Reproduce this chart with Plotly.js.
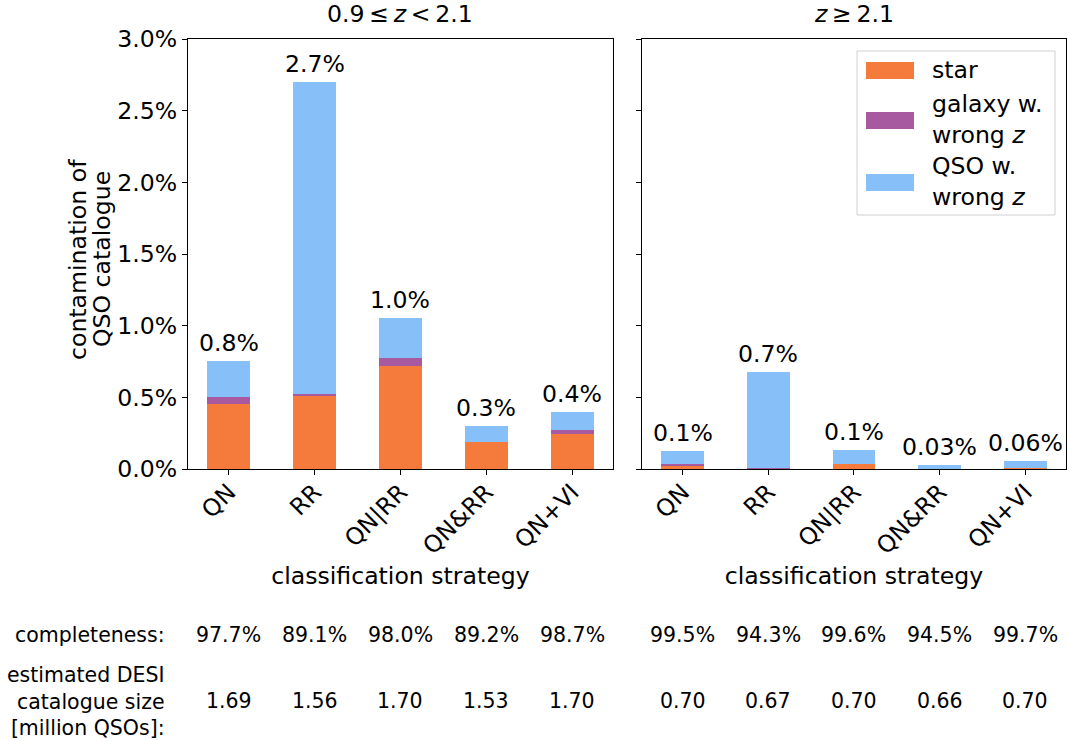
<!DOCTYPE html>
<html>
<head>
<meta charset="utf-8">
<script src="https://cdn.plot.ly/plotly-3.0.1.min.js"></script>
<style>html,body{margin:0;padding:0;background:#fff;}#chart{width:1067px;height:740px;}</style>
</head>
<body>
<div id="chart"></div>
<script>
// ---- data ----
const categories = ['QN', 'RR', 'QN|RR', 'QN&RR', 'QN+VI'];
// 0.9 <= z < 2.1 (percent)
const starLow   = [0.453, 0.507, 0.717, 0.191, 0.245];
const galaxyLow = [0.052, 0.014, 0.056, 0.000, 0.024];
const qsoLow    = [0.252, 2.177, 0.278, 0.110, 0.126];
const totalLabelsLow = ['0.8%', '2.7%', '1.0%', '0.3%', '0.4%'];
const completenessLow = ['97.7%', '89.1%', '98.0%', '89.2%', '98.7%'];
const sizeLow = ['1.69', '1.56', '1.70', '1.53', '1.70'];
// z >= 2.1 (percent)
const starHigh   = [0.021, 0.002, 0.035, 0.000, 0.009];
const galaxyHigh = [0.016, 0.007, 0.003, 0.000, 0.001];
const qsoHigh    = [0.091, 0.666, 0.097, 0.028, 0.048];
const totalLabelsHigh = ['0.1%', '0.7%', '0.1%', '0.03%', '0.06%'];
const completenessHigh = ['99.5%', '94.3%', '99.6%', '94.5%', '99.7%'];
const sizeHigh = ['0.70', '0.67', '0.70', '0.66', '0.70'];
const seriesNames = ['star', 'galaxy w. wrong z', 'QSO w. wrong z'];
const legendLabels = ['star', 'galaxy w.<br>wrong <i>z</i>', 'QSO w.<br>wrong <i>z</i>'];
const colors = ['#f57b3c', '#a85aa0', '#87c0f8'];

// ---- build ----
const FONT = 'DejaVu Sans, sans-serif';
const BIG = 23.6, SMALL = 20.5;
const tf = {family: FONT, size: BIG, color: '#000'};
const sf = {family: FONT, size: SMALL, color: '#000'};
const idx = categories.map((_, i) => i);
function bars(vals, name, color, xa, ya) {
  return {type: 'bar', x: idx, y: vals, name: name, width: 0.5,
    marker: {color: color, line: {width: 0}}, xaxis: xa, yaxis: ya,
    showlegend: false, hoverinfo: 'y'};
}
const traces = [
  bars(starLow, seriesNames[0], colors[0], 'x', 'y'),
  bars(galaxyLow, seriesNames[1], colors[1], 'x', 'y'),
  bars(qsoLow, seriesNames[2], colors[2], 'x', 'y'),
  bars(starHigh, seriesNames[0], colors[0], 'x2', 'y2'),
  bars(galaxyHigh, seriesNames[1], colors[1], 'x2', 'y2'),
  bars(qsoHigh, seriesNames[2], colors[2], 'x2', 'y2')
];

const sum = (a, b, c) => a.map((v, i) => v + b[i] + c[i]);
const totLow = sum(starLow, galaxyLow, qsoLow);
const totHigh = sum(starHigh, galaxyHigh, qsoHigh);

// pixel -> paper helpers (plot area: left 188, top 39, width 878, height 430)
const W = 878, H = 430, L = 188, T = 39;
const px = x => (x - L) / W, py = y => (T + H - y) / H;

const annotations = [];
idx.forEach(i => {
  annotations.push({xref: 'x', yref: 'y', x: i, y: totLow[i], text: totalLabelsLow[i],
    showarrow: false, yanchor: 'bottom', yshift: 2, font: tf});
  annotations.push({xref: 'x2', yref: 'y2', x: i, y: totHigh[i], text: totalLabelsHigh[i],
    showarrow: false, yanchor: 'bottom', yshift: 2, font: tf});
  annotations.push({xref: 'x', yref: 'paper', x: i, y: py(635), text: completenessLow[i],
    showarrow: false, yanchor: 'middle', font: sf});
  annotations.push({xref: 'x2', yref: 'paper', x: i, y: py(635), text: completenessHigh[i],
    showarrow: false, yanchor: 'middle', font: sf});
  annotations.push({xref: 'x', yref: 'paper', x: i, y: py(701), text: sizeLow[i],
    showarrow: false, yanchor: 'middle', font: sf});
  annotations.push({xref: 'x2', yref: 'paper', x: i, y: py(701), text: sizeHigh[i],
    showarrow: false, yanchor: 'middle', font: sf});
});
annotations.push({xref: 'paper', yref: 'paper', x: px(167), y: py(635), text: 'completeness:',
  showarrow: false, xanchor: 'right', yanchor: 'middle', font: sf});
annotations.push({xref: 'paper', yref: 'paper', x: px(167), y: py(701),
  text: 'estimated DESI<br>catalogue size<br>[million QSOs]:', align: 'right',
  showarrow: false, xanchor: 'right', yanchor: 'middle', font: sf});
// y-axis title (two lines)
['contamination of', 'QSO catalogue'].forEach((t, k) => {
  annotations.push({xref: 'paper', yref: 'paper', x: px(78 + 24 * k), y: py(259), text: t,
    textangle: -90, showarrow: false, xanchor: 'center', yanchor: 'middle', font: tf});
});
// subplot titles
annotations.push({xref: 'x domain', yref: 'paper', x: 0.5, y: 1, yshift: 9, yanchor: 'bottom',
  text: '0.9\u2009≤\u2009<i>z</i>\u2009&lt;\u20092.1', showarrow: false, font: tf});
annotations.push({xref: 'x2 domain', yref: 'paper', x: 0.5, y: 1, yshift: 9, yanchor: 'bottom',
  text: '<i>z</i>\u2009≥\u20092.1', showarrow: false, font: tf});

// legend box drawn in paper coordinates
const shapes = [];
shapes.push({type: 'rect', xref: 'paper', yref: 'paper', x0: px(857), x1: px(1055), y0: py(215), y1: py(51),
  line: {color: '#d0d0d0', width: 1}, fillcolor: 'rgba(255,255,255,0.8)'});
const swY = [70.5, 120.5, 182.5];
const textY = [70, 119, 181];
legendLabels.forEach((t, i) => {
  shapes.push({type: 'rect', xref: 'paper', yref: 'paper', x0: px(866), x1: px(914),
    y0: py(swY[i] + 8.5), y1: py(swY[i] - 8.5), line: {width: 0}, fillcolor: colors[i]});
  annotations.push({xref: 'paper', yref: 'paper', x: px(930), y: py(textY[i]), text: t,
    showarrow: false, xanchor: 'left', yanchor: 'middle', align: 'left', font: tf});
});

const axisCommon = {
  showline: true, mirror: true, linecolor: '#000', linewidth: 1,
  ticks: 'outside', ticklen: 5, tickcolor: '#000', showgrid: false, zeroline: false,
  tickfont: tf
};
const layout = {
  width: 1067, height: 740,
  margin: {l: 188, r: 1, t: 39, b: 271},
  paper_bgcolor: '#fff', plot_bgcolor: '#fff',
  barmode: 'stack', showlegend: false,
  font: tf,
  xaxis: Object.assign({}, axisCommon, {domain: [0, 0.484], range: [-0.475, 4.475],
    tickvals: idx, ticktext: categories, tickangle: -45, ticklabelstandoff: -6,
    title: {text: 'classification strategy', font: tf, standoff: 8}}),
  xaxis2: Object.assign({}, axisCommon, {domain: [0.517, 1], range: [-0.475, 4.475],
    tickvals: idx, ticktext: categories, tickangle: -45, anchor: 'y2', ticklabelstandoff: -6,
    title: {text: 'classification strategy', font: tf, standoff: 8}}),
  yaxis: Object.assign({}, axisCommon, {range: [0, 3], dtick: 0.5, tickformat: '.1f', ticksuffix: '%'}),
  yaxis2: Object.assign({}, axisCommon, {range: [0, 3], dtick: 0.5, anchor: 'x2', matches: 'y',
    showticklabels: false}),
  annotations: annotations,
  shapes: shapes
};
Plotly.newPlot('chart', traces, layout, {displayModeBar: false, staticPlot: true});
</script>
</body>
</html>
